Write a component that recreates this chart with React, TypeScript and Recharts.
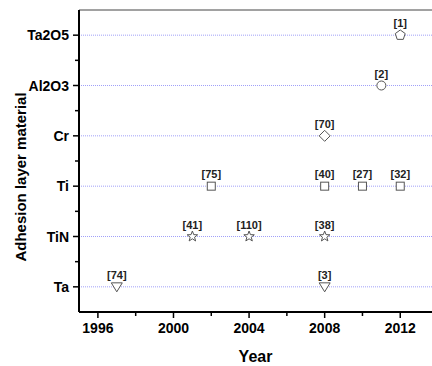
import React from "react";
import {
  ScatterChart,
  Scatter,
  XAxis,
  YAxis,
  ReferenceLine,
  Label,
} from "recharts";

// categories, bottom to top
const materials = ["Ta", "TiN", "Ti", "Cr", "Al2O3", "Ta2O5"];

const taYears = [1997, 2008];
const taRefs = [74, 3];
const tinYears = [2001, 2004, 2008];
const tinRefs = [41, 110, 38];
const tiYears = [2002, 2008, 2010, 2012];
const tiRefs = [75, 40, 27, 32];
const crYears = [2008];
const crRefs = [70];
const al2o3Years = [2011];
const al2o3Refs = [2];
const ta2o5Years = [2012];
const ta2o5Refs = [1];

const xTicks = [1996, 1998, 2000, 2002, 2004, 2006, 2008, 2010, 2012];
const xLabelYears = [1996, 2000, 2004, 2008, 2012];
const yTicks = [0, 0.5, 1, 1.5, 2, 2.5, 3, 3.5, 4, 4.5, 5];
const topTicks = [1, 2, 3, 4, 5, 6, 7, 8, 9];

const FONT = "'Liberation Sans', Arial, sans-serif";
const MARK = "#555";

const build = (name: string, years: number[], refs: number[]) =>
  years.map((year, i) => ({ year, y: materials.indexOf(name), ref: refs[i] }));

const series = [
  { name: "Ta", data: build("Ta", taYears, taRefs), kind: "triDown" },
  { name: "TiN", data: build("TiN", tinYears, tinRefs), kind: "star" },
  { name: "Ti", data: build("Ti", tiYears, tiRefs), kind: "square" },
  { name: "Cr", data: build("Cr", crYears, crRefs), kind: "diamond" },
  { name: "Al2O3", data: build("Al2O3", al2o3Years, al2o3Refs), kind: "circle" },
  { name: "Ta2O5", data: build("Ta2O5", ta2o5Years, ta2o5Refs), kind: "pentagon" },
];

function polyPoints(cx: number, cy: number, n: number, rOut: number, rIn?: number) {
  const pts: string[] = [];
  const total = rIn ? n * 2 : n;
  for (let k = 0; k < total; k++) {
    const r = rIn && k % 2 === 1 ? rIn : rOut;
    const a = -Math.PI / 2 + (k * 2 * Math.PI) / total;
    pts.push(`${cx + r * Math.cos(a)},${cy + r * Math.sin(a)}`);
  }
  return pts.join(" ");
}

function Marker(props: any) {
  const { cx, cy, kind, payload } = props;
  if (cx == null || cy == null) return null;
  let shape;
  const common = { fill: "#fff", stroke: MARK, strokeWidth: 1 };
  if (kind === "square") {
    shape = <rect x={cx - 4} y={cy - 4} width={8} height={8} {...common} />;
  } else if (kind === "circle") {
    shape = <circle cx={cx} cy={cy} r={4.5} {...common} />;
  } else if (kind === "diamond") {
    shape = <polygon points={`${cx},${cy - 5.5} ${cx + 5.5},${cy} ${cx},${cy + 5.5} ${cx - 5.5},${cy}`} {...common} />;
  } else if (kind === "triDown") {
    shape = <polygon points={`${cx - 5.5},${cy - 4} ${cx + 5.5},${cy - 4} ${cx},${cy + 5}`} {...common} />;
  } else if (kind === "star") {
    shape = <polygon points={polyPoints(cx, cy, 5, 5.5, 2.3)} {...common} />;
  } else {
    shape = <polygon points={polyPoints(cx, cy, 5, 5.2)} {...common} />;
  }
  return (
    <g>
      {shape}
      <text
        x={cx}
        y={cy - 8}
        textAnchor="middle"
        fontFamily={FONT}
        fontWeight="bold"
        fontSize={11}
        fill="#222"
      >
        [{payload.ref}]
      </text>
    </g>
  );
}

function XTick(props: any) {
  const { x, y, payload } = props;
  const major = xLabelYears.includes(payload.value);
  return (
    <g>
      <line x1={x} y1={y} x2={x} y2={y + (major ? 6 : 4)} stroke="#000" strokeWidth={1.5} />
      {major && (
        <text x={x} y={y + 21} textAnchor="middle" fontFamily={FONT} fontWeight="bold" fontSize={14} fill="#000">
          {payload.value}
        </text>
      )}
    </g>
  );
}

function YTick(props: any) {
  const { x, y, payload } = props;
  const major = Number.isInteger(payload.value);
  return (
    <g>
      <line x1={x - (major ? 6 : 4)} y1={y} x2={x} y2={y} stroke="#000" strokeWidth={1.5} />
      {major && (
        <text x={x - 10} y={y} dy="0.36em" textAnchor="end" fontFamily={FONT} fontWeight="bold" fontSize={14} fill="#000">
          {materials[payload.value]}
        </text>
      )}
    </g>
  );
}

function TopTick(props: any) {
  const { x, y } = props;
  // small inward marks hanging from the top frame line
  return <line x1={x} y1={y} x2={x} y2={y + 5} stroke="#444" strokeWidth={1} />;
}

export default function App() {
  return (
    <div style={{ position: "absolute", left: 0, top: 0, width: 432, height: 366, background: "#fff" }}>
      <ScatterChart width={432} height={366} margin={{ top: 9, right: 0, bottom: 0, left: 0 }}>
        <XAxis
          dataKey="year"
          type="number"
          domain={[1995, 2013.68]}
          ticks={xTicks}
          interval={0}
          allowDataOverflow
          height={54}
          tickSize={0}
          tickMargin={0}
          tickLine={false}
          tick={<XTick />}
          axisLine={{ stroke: "#000", strokeWidth: 2 }}
        >
          <Label
            content={({ viewBox }: any) => (
              <text
                x={viewBox.x + viewBox.width / 2}
                y={viewBox.y + 50}
                textAnchor="middle"
                fontFamily={FONT}
                fontWeight="bold"
                fontSize={16}
                fill="#000"
              >
                Year
              </text>
            )}
          />
        </XAxis>
        <XAxis
          xAxisId="top"
          orientation="top"
          type="number"
          domain={[0, 353 / 36]}
          ticks={topTicks}
          interval={0}
          height={1}
          tickSize={0}
          tickMargin={0}
          tickLine={false}
          tick={<TopTick />}
          axisLine={{ stroke: "#444", strokeWidth: 1 }}
        />
        <YAxis
          dataKey="y"
          type="number"
          domain={[-0.5, 5.5]}
          ticks={yTicks}
          interval={0}
          width={79}
          tickSize={0}
          tickMargin={0}
          tickLine={false}
          tick={<YTick />}
          axisLine={{ stroke: "#000", strokeWidth: 2 }}
        >
          <Label
            content={({ viewBox }: any) => (
              <text
                transform={`translate(26, ${viewBox.y + 167}) rotate(-90)`}
                textAnchor="middle"
                fontFamily={FONT}
                fontWeight="bold"
                fontSize={15}
                fill="#000"
              >
                Adhesion layer material
              </text>
            )}
          />
        </YAxis>
        {materials.map((m, i) => (
          <ReferenceLine key={m} y={i} stroke="#a0a0f8" strokeDasharray="1 1" />
        ))}
        {series.map((s) => (
          <Scatter
            key={s.name}
            name={s.name}
            data={s.data}
            isAnimationActive={false}
            shape={(p: any) => <Marker {...p} kind={s.kind} />}
          />
        ))}
      </ScatterChart>
    </div>
  );
}
